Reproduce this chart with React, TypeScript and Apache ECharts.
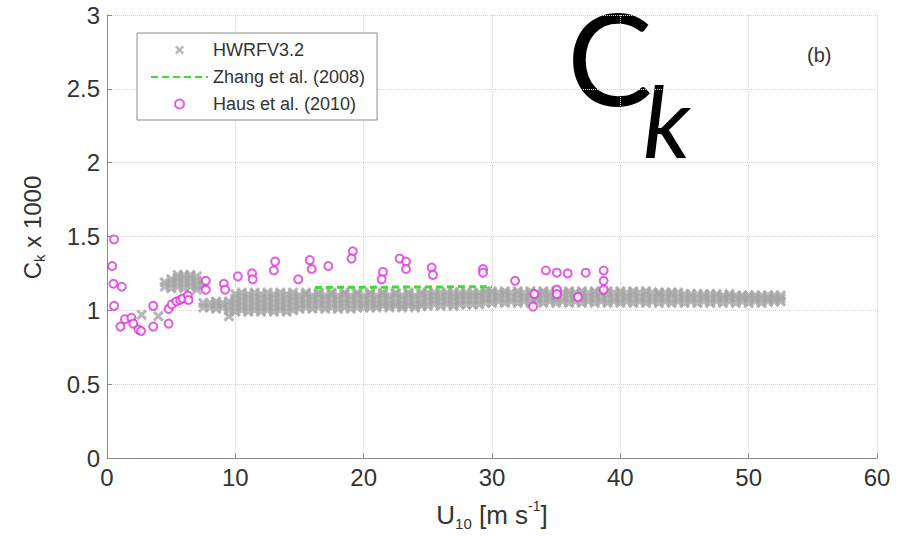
import React, { useEffect, useRef } from 'react';
import * as echarts from 'echarts';

// ---- axes ----
const xTickLabels = ['0', '10', '20', '30', '40', '50', '60'];
const yTickLabels = ['0', '0.5', '1', '1.5', '2', '2.5', '3'];

// ---- legend / series names ----
const seriesNames = ['HWRFV3.2', 'Zhang et al. (2008)', 'Haus et al. (2010)'];

// ---- HWRFV3.2 model cloud (x = U10, list of Ck*1000 values read per column) ----
const hwrfLowWind: [number, number[]][] = [
  [2.7, [0.97]],
  [4.0, [0.96]],
  [4.5, [1.16, 1.19]],
  [5.0, [1.15, 1.18, 1.21]],
  [5.5, [1.16, 1.19, 1.22, 1.24]],
  [6.0, [1.15, 1.18, 1.21, 1.24]],
  [6.5, [1.16, 1.19, 1.22, 1.24]],
  [7.0, [1.14, 1.17, 1.2, 1.23]],
  [7.5, [1.02, 1.05, 1.17]],
  [8.0, [1.02, 1.05]],
  [8.5, [1.01, 1.04, 1.06]],
  [9.0, [1.02, 1.05]],
  [9.5, [0.96, 1.0, 1.03, 1.06]],
];
const hwrfMidWind: [number, number[]][] = [
  [10.0, [0.99, 1.02, 1.05, 1.08, 1.11]],
  [10.5, [1.0, 1.03, 1.06, 1.09, 1.12]],
  [11.0, [0.99, 1.02, 1.05, 1.08, 1.11]],
  [11.5, [1.0, 1.03, 1.06, 1.09, 1.12]],
  [12.0, [0.99, 1.02, 1.05, 1.08, 1.11]],
  [12.5, [1.0, 1.03, 1.06, 1.09, 1.12]],
  [13.0, [0.99, 1.02, 1.05, 1.08, 1.11]],
  [13.5, [1.0, 1.03, 1.06, 1.09, 1.12]],
  [14.0, [0.99, 1.02, 1.05, 1.08, 1.11]],
  [14.5, [1.0, 1.03, 1.06, 1.09, 1.12]],
  [15.0, [1.01, 1.04, 1.07, 1.1]],
  [15.5, [1.02, 1.05, 1.08, 1.11, 1.12]],
  [16.0, [1.01, 1.04, 1.07, 1.1]],
  [16.5, [1.02, 1.05, 1.08, 1.11, 1.12]],
  [17.0, [1.01, 1.04, 1.07, 1.1]],
  [17.5, [1.02, 1.05, 1.08, 1.11, 1.12]],
  [18.0, [1.01, 1.04, 1.07, 1.1]],
  [18.5, [1.02, 1.05, 1.08, 1.11, 1.12]],
  [19.0, [1.01, 1.04, 1.07, 1.1]],
  [19.5, [1.02, 1.05, 1.08, 1.11, 1.12]],
  [20.0, [1.02, 1.04, 1.07, 1.1]],
  [20.5, [1.02, 1.05, 1.08, 1.11, 1.12]],
  [21.0, [1.02, 1.04, 1.07, 1.1]],
  [21.5, [1.03, 1.05, 1.08, 1.11, 1.12]],
  [22.0, [1.02, 1.04, 1.07, 1.1]],
  [22.5, [1.03, 1.05, 1.08, 1.11, 1.12]],
  [23.0, [1.02, 1.04, 1.07, 1.1]],
  [23.5, [1.03, 1.05, 1.08, 1.11, 1.12]],
  [24.0, [1.02, 1.04, 1.07, 1.1]],
  [24.5, [1.03, 1.05, 1.08, 1.11, 1.12]],
  [25.0, [1.03, 1.06, 1.09, 1.12]],
  [25.5, [1.04, 1.07, 1.1, 1.12]],
  [26.0, [1.03, 1.06, 1.09, 1.12]],
  [26.5, [1.04, 1.07, 1.1, 1.12]],
  [27.0, [1.03, 1.06, 1.09, 1.12]],
  [27.5, [1.04, 1.07, 1.1, 1.12]],
  [28.0, [1.04, 1.07, 1.1, 1.12]],
  [28.5, [1.04, 1.07, 1.1, 1.12]],
  [29.0, [1.04, 1.07, 1.1, 1.12]],
  [29.5, [1.05, 1.08, 1.11, 1.13]],
];
const hwrfHighWind: [number, number[]][] = [
  [30.0, [1.05, 1.08, 1.11, 1.13]],
  [30.5, [1.06, 1.09, 1.12]],
  [31.0, [1.05, 1.08, 1.11, 1.13]],
  [31.5, [1.06, 1.09, 1.12]],
  [32.0, [1.05, 1.08, 1.11, 1.13]],
  [32.5, [1.06, 1.09, 1.12]],
  [33.0, [1.05, 1.08, 1.11, 1.13]],
  [33.5, [1.06, 1.09, 1.12]],
  [34.0, [1.05, 1.08, 1.11, 1.13]],
  [34.5, [1.06, 1.09, 1.12]],
  [35.0, [1.05, 1.08, 1.11, 1.13]],
  [35.5, [1.06, 1.09, 1.12]],
  [36.0, [1.05, 1.08, 1.11, 1.13]],
  [36.5, [1.06, 1.09, 1.12]],
  [37.0, [1.05, 1.08, 1.11, 1.13]],
  [37.5, [1.06, 1.09, 1.12]],
  [38.0, [1.05, 1.08, 1.11, 1.13]],
  [38.5, [1.06, 1.09, 1.12]],
  [39.0, [1.05, 1.08, 1.11, 1.13]],
  [39.5, [1.06, 1.09, 1.12]],
  [40.0, [1.05, 1.08, 1.11, 1.13]],
  [40.5, [1.06, 1.09, 1.12]],
  [41.0, [1.05, 1.08, 1.11, 1.13]],
  [41.5, [1.06, 1.09, 1.12]],
  [42.0, [1.05, 1.08, 1.11, 1.13]],
  [42.5, [1.06, 1.09, 1.12]],
  [43.0, [1.05, 1.08, 1.11, 1.12]],
  [43.5, [1.06, 1.09, 1.12]],
  [44.0, [1.05, 1.08, 1.11, 1.12]],
  [44.5, [1.06, 1.09, 1.12]],
  [45.0, [1.05, 1.08, 1.11]],
  [45.5, [1.06, 1.09, 1.11]],
  [46.0, [1.05, 1.08, 1.11]],
  [46.5, [1.06, 1.09, 1.11]],
  [47.0, [1.05, 1.08, 1.11]],
  [47.5, [1.06, 1.09, 1.11]],
  [48.0, [1.05, 1.08, 1.1]],
  [48.5, [1.06, 1.09, 1.11]],
  [49.0, [1.05, 1.08, 1.1]],
  [49.5, [1.06, 1.09, 1.1]],
  [50.0, [1.05, 1.08, 1.1]],
  [50.5, [1.06, 1.08, 1.1]],
  [51.0, [1.05, 1.08, 1.1]],
  [51.5, [1.06, 1.08, 1.1]],
  [52.0, [1.06, 1.08, 1.1]],
  [52.5, [1.06, 1.08, 1.1]],
];

// ---- Zhang et al. (2008) ----
const zhangX = [16.2, 30.0];
const zhangY = [1.155, 1.16];

// ---- Haus et al. (2010) ----
const hausX = [
  0.55, 0.4, 0.5, 1.15, 0.55, 1.05, 1.4, 1.9, 2.05, 2.45, 2.65, 3.6, 3.6, 4.8, 4.8, 5.05, 5.4, 5.7,
  5.9, 6.3, 6.35, 7.7, 7.7, 9.1, 9.2, 10.2, 11.3, 11.35, 13.1, 13.0, 14.9, 15.8, 15.95, 17.25,
  19.15, 19.05, 21.5, 21.4, 22.8, 23.3, 23.3, 25.3, 25.4, 29.3, 29.3, 31.8, 33.3, 33.2, 34.2,
  35.05, 35.05, 35.05, 35.9, 36.7, 37.3, 38.7, 38.7, 38.7,
];
const hausY = [
  1.48, 1.3, 1.18, 1.16, 1.03, 0.89, 0.94, 0.95, 0.91, 0.87, 0.86, 0.89, 1.03, 0.91, 1.01, 1.04,
  1.06, 1.07, 1.08, 1.1, 1.07, 1.2, 1.14, 1.18, 1.14, 1.23, 1.25, 1.21, 1.33, 1.27, 1.21, 1.34,
  1.28, 1.3, 1.4, 1.35, 1.26, 1.21, 1.35, 1.33, 1.28, 1.29, 1.24, 1.28, 1.255, 1.2, 1.11, 1.025,
  1.27, 1.255, 1.14, 1.11, 1.25, 1.09, 1.255, 1.27, 1.2, 1.14,
];

const FONT = '"Liberation Sans", Arial, sans-serif';
const X_SYMBOL = 'path://M0,2L2,0L5,3L8,0L10,2L7,5L10,8L8,10L5,7L2,10L0,8L3,5Z';
const TEXT_COLOR = '#333';
const AXIS_COLOR = '#8a8a8a';

export default function App() {
  const ref = useRef<HTMLDivElement>(null);
  useEffect(() => {
    if (!ref.current) return;
    const chart = echarts.init(ref.current, undefined, { renderer: 'svg' });
    const hwrfPoints: number[][] = [];
    [...hwrfLowWind, ...hwrfMidWind, ...hwrfHighWind].forEach(([x, ys]) =>
      ys.forEach((y) => hwrfPoints.push([x, y]))
    );
    const zhangPoints = zhangX.map((x, i) => [x, zhangY[i]]);
    const hausPoints = hausX.map((x, i) => [x, hausY[i]]);

    chart.setOption({
      animation: false,
      backgroundColor: '#fff',
      grid: { left: 107, right: 34, top: 15, bottom: 79, containLabel: false },
      xAxis: {
        type: 'value',
        min: 0,
        max: 60,
        interval: 10,
        name: '{a|U}{sub|10}{a| [m s}{sup|-1}{a|]}',
        nameLocation: 'middle',
        nameGap: 41,
        nameTextStyle: {
          rich: {
            a: { fontSize: 26, lineHeight: 32, fontFamily: FONT, color: TEXT_COLOR },
            sub: { fontSize: 15, lineHeight: 15, verticalAlign: 'bottom', fontFamily: FONT, color: TEXT_COLOR },
            sup: { fontSize: 14, lineHeight: 14, verticalAlign: 'top', fontFamily: FONT, color: TEXT_COLOR },
          },
        },
        axisLine: { show: true, onZero: false, lineStyle: { color: AXIS_COLOR, width: 1 } },
        axisTick: { show: true, inside: true, length: 5, lineStyle: { color: AXIS_COLOR } },
        axisLabel: {
          fontSize: 24,
          fontFamily: FONT,
          color: TEXT_COLOR,
          margin: 7,
          formatter: (v: number) => xTickLabels[Math.round(v / 10)] ?? String(v),
        },
        splitLine: { show: true, lineStyle: { type: 'dotted', color: '#d4d4d4', width: 1 } },
      },
      yAxis: {
        type: 'value',
        min: 0,
        max: 3,
        interval: 0.5,
        name: '{a|C}{sub|k}{a| x 1000}',
        nameLocation: 'middle',
        nameGap: 60,
        nameTextStyle: {
          padding: [0, 0, 0, 18],
          rich: {
            a: { fontSize: 24, lineHeight: 30, fontFamily: FONT, color: TEXT_COLOR },
            sub: { fontSize: 15, lineHeight: 15, verticalAlign: 'bottom', fontFamily: FONT, color: TEXT_COLOR },
          },
        },
        axisLine: { show: true, onZero: false, lineStyle: { color: AXIS_COLOR, width: 1 } },
        axisTick: { show: true, inside: true, length: 5, lineStyle: { color: AXIS_COLOR } },
        axisLabel: {
          fontSize: 24,
          fontFamily: FONT,
          color: TEXT_COLOR,
          margin: 7,
          formatter: (v: number) => yTickLabels[Math.round(v * 2)] ?? String(v),
        },
        splitLine: { show: true, lineStyle: { type: 'dotted', color: '#d4d4d4', width: 1 } },
      },
      legend: {
        orient: 'vertical',
        left: 137,
        top: 33,
        padding: [8, 12, 7, 13],
        itemGap: 9,
        itemWidth: 57,
        itemHeight: 9,
        borderColor: AXIS_COLOR,
        borderWidth: 1,
        backgroundColor: '#fff',
        textStyle: { fontSize: 18, fontFamily: FONT, color: TEXT_COLOR },
        data: [
          { name: seriesNames[0] },
          { name: seriesNames[1], itemStyle: { opacity: 0 } },
          { name: seriesNames[2] },
        ],
      },
      graphic: [
        {
          type: 'text',
          left: 567,
          top: -8,
          style: { text: 'C', fontSize: 128, lineHeight: 100, fontFamily: 'Lato', fill: '#000' },
        },
        {
          type: 'text',
          left: 643,
          top: 69,
          style: {
            text: 'k',
            fontSize: 100,
            lineHeight: 80,
            fontStyle: 'italic',
            fontFamily: 'Lato',
            fill: '#000',
          },
        },
        {
          type: 'text',
          left: 807,
          top: 45,
          style: { text: '(b)', fontSize: 20, fontFamily: FONT, fill: TEXT_COLOR },
        },
      ],
      series: [
        {
          name: seriesNames[0],
          type: 'scatter',
          symbol: X_SYMBOL,
          symbolSize: 11,
          itemStyle: { color: '#a5a5a5' },
          data: hwrfPoints,
          z: 1,
        },
        {
          name: seriesNames[1],
          type: 'line',
          symbol: 'none',
          lineStyle: { color: '#3ddc2f', width: 3, type: [7, 4] },
          itemStyle: { color: '#3ddc2f' },
          data: zhangPoints,
          z: 2,
        },
        {
          name: seriesNames[2],
          type: 'scatter',
          symbol: 'emptyCircle',
          symbolSize: 8,
          itemStyle: { color: '#dd33dd', borderColor: '#dd33dd', borderWidth: 2 },
          data: hausPoints,
          z: 3,
        },
      ],
    });
    return () => chart.dispose();
  }, []);
  return (
    <div
      ref={ref}
      style={{ position: 'fixed', left: 0, top: 0, width: 911, height: 537, background: '#fff' }}
    />
  );
}
